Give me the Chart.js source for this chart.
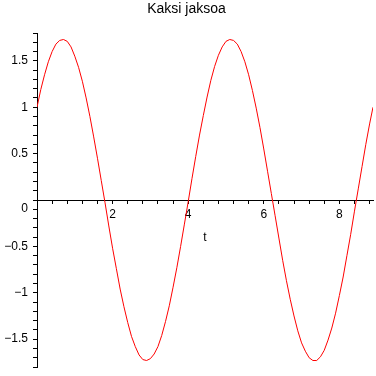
<!DOCTYPE html>
<html>
<head>
<meta charset="utf-8">
<script src="https://cdn.jsdelivr.net/npm/chart.js@4/dist/chart.umd.min.js"></script>
<style>
  html, body { margin: 0; padding: 0; background: #ffffff; }
  canvas { display: block; }
</style>
</head>
<body>
<canvas id="c" width="376" height="376"></canvas>
<script>
const chartTitle = 'Kaksi jaksoa';
const xAxisTitle = 't';
const tValues = [
  0, 0.1, 0.2, 0.3, 0.4, 0.5, 0.6, 0.7, 0.8, 0.9,
  1.0, 1.1, 1.2, 1.3, 1.4, 1.5, 1.6, 1.7, 1.8, 1.9,
  2.0, 2.1, 2.2, 2.3, 2.4, 2.5, 2.6, 2.7, 2.8, 2.9,
  3.0, 3.1, 3.2, 3.3, 3.4, 3.5, 3.6, 3.7, 3.8, 3.9,
  4.0, 4.1, 4.2, 4.3, 4.4, 4.5, 4.6, 4.7, 4.8, 4.9,
  5.0, 5.1, 5.2, 5.3, 5.4, 5.5, 5.6, 5.7, 5.8, 5.9,
  6.0, 6.1, 6.2, 6.3, 6.4, 6.5, 6.6, 6.7, 6.8, 6.9,
  7.0, 7.1, 7.2, 7.3, 7.4, 7.5, 7.6, 7.7, 7.8, 7.9,
  8.0, 8.1, 8.2, 8.3, 8.4, 8.5, 8.6, 8.7, 8.8, 8.89
];
const yValues = [
  1.00, 1.19, 1.35, 1.49, 1.60, 1.68, 1.72, 1.73, 1.71, 1.65,
  1.55, 1.43, 1.28, 1.10, 0.90, 0.68, 0.45, 0.21, -0.03, -0.28,
  -0.52, -0.74, -0.96, -1.15, -1.32, -1.47, -1.58, -1.67, -1.72, -1.73,
  -1.71, -1.66, -1.58, -1.46, -1.31, -1.14, -0.94, -0.73, -0.50, -0.26,
  -0.02, 0.23, 0.47, 0.70, 0.91, 1.11, 1.29, 1.44, 1.56, 1.65,
  1.71, 1.73, 1.72, 1.68, 1.60, 1.49, 1.35, 1.18, 0.99, 0.78,
  0.55, 0.31, 0.07, -0.17, -0.41, -0.65, -0.87, -1.07, -1.25, -1.41,
  -1.54, -1.63, -1.70, -1.73, -1.73, -1.69, -1.62, -1.51, -1.38, -1.22,
  -1.03, -0.83, -0.60, -0.37, -0.12, 0.12, 0.36, 0.60, 0.82, 1.00
];
const xRange = [0, 8.89];
const yRange = [-1.8, 1.8];
const xMinorStep = 0.4;
const xLabelStep = 2;
const yMinorStep = 0.1;
const yLabelStep = 0.5;

const points = tValues.map((t, i) => ({ x: t, y: yValues[i] }));

function isMultiple(v, step) {
  const r = v / step;
  return Math.abs(r - Math.round(r)) < 1e-6;
}
function fmt(v) {
  const r = Math.round(v * 10) / 10;
  const s = String(Math.abs(r));
  return r < 0 ? '\u2212' + s : s;
}

Chart.defaults.color = '#000000';
Chart.defaults.font.family = '"Liberation Sans", Arial, sans-serif';

new Chart(document.getElementById('c'), {
  type: 'line',
  data: {
    datasets: [{
      data: points,
      borderColor: '#ff0000',
      borderWidth: 1,
      pointRadius: 0,
      tension: 0,
      fill: false
    }]
  },
  options: {
    responsive: false,
    animation: false,
    devicePixelRatio: 1,
    layout: { padding: { left: 0, right: 3, top: 0, bottom: 9 } },
    plugins: {
      legend: { display: false },
      tooltip: { enabled: false },
      title: {
        display: true,
        text: chartTitle,
        color: '#000000',
        font: { size: 14, weight: 'normal' },
        padding: { top: 1, bottom: 15.2 }
      }
    },
    scales: {
      x: {
        type: 'linear',
        position: { y: 0 },
        min: xRange[0],
        max: xRange[1],
        grid: { display: true, drawOnChartArea: false, drawTicks: true, tickLength: 3, color: '#000000' },
        border: { display: true, color: '#000000', width: 1 },
        ticks: {
          stepSize: xMinorStep,
          includeBounds: false,
          autoSkip: false,
          maxRotation: 0,
          padding: 4,
          font: { size: 12 },
          color: '#000000',
          callback: (v) => (v !== 0 && isMultiple(v, xLabelStep)) ? fmt(v) : ''
        },
        title: {
          display: true,
          text: xAxisTitle,
          color: '#000000',
          font: { size: 12 },
          padding: { top: 5, bottom: 0 }
        }
      },
      y: {
        type: 'linear',
        position: 'left',
        min: yRange[0],
        max: yRange[1],
        afterFit: (scale) => {
          scale.width = 37;
          scale.paddingTop = 0;
          scale.paddingBottom = 0;
        },
        grid: { display: true, drawOnChartArea: false, drawTicks: true, tickLength: 4, color: '#000000' },
        border: { display: true, color: '#000000', width: 1 },
        ticks: {
          stepSize: yMinorStep,
          includeBounds: false,
          autoSkip: false,
          padding: 5,
          font: { size: 12, lineHeight: 1.4 },
          color: '#000000',
          callback: (v) => {
            if (!isMultiple(v, yLabelStep)) return '';
            if (Math.abs(v) < 1e-9) return ['', '0'];
            return fmt(v);
          }
        }
      }
    }
  }
});
</script>
</body>
</html>
